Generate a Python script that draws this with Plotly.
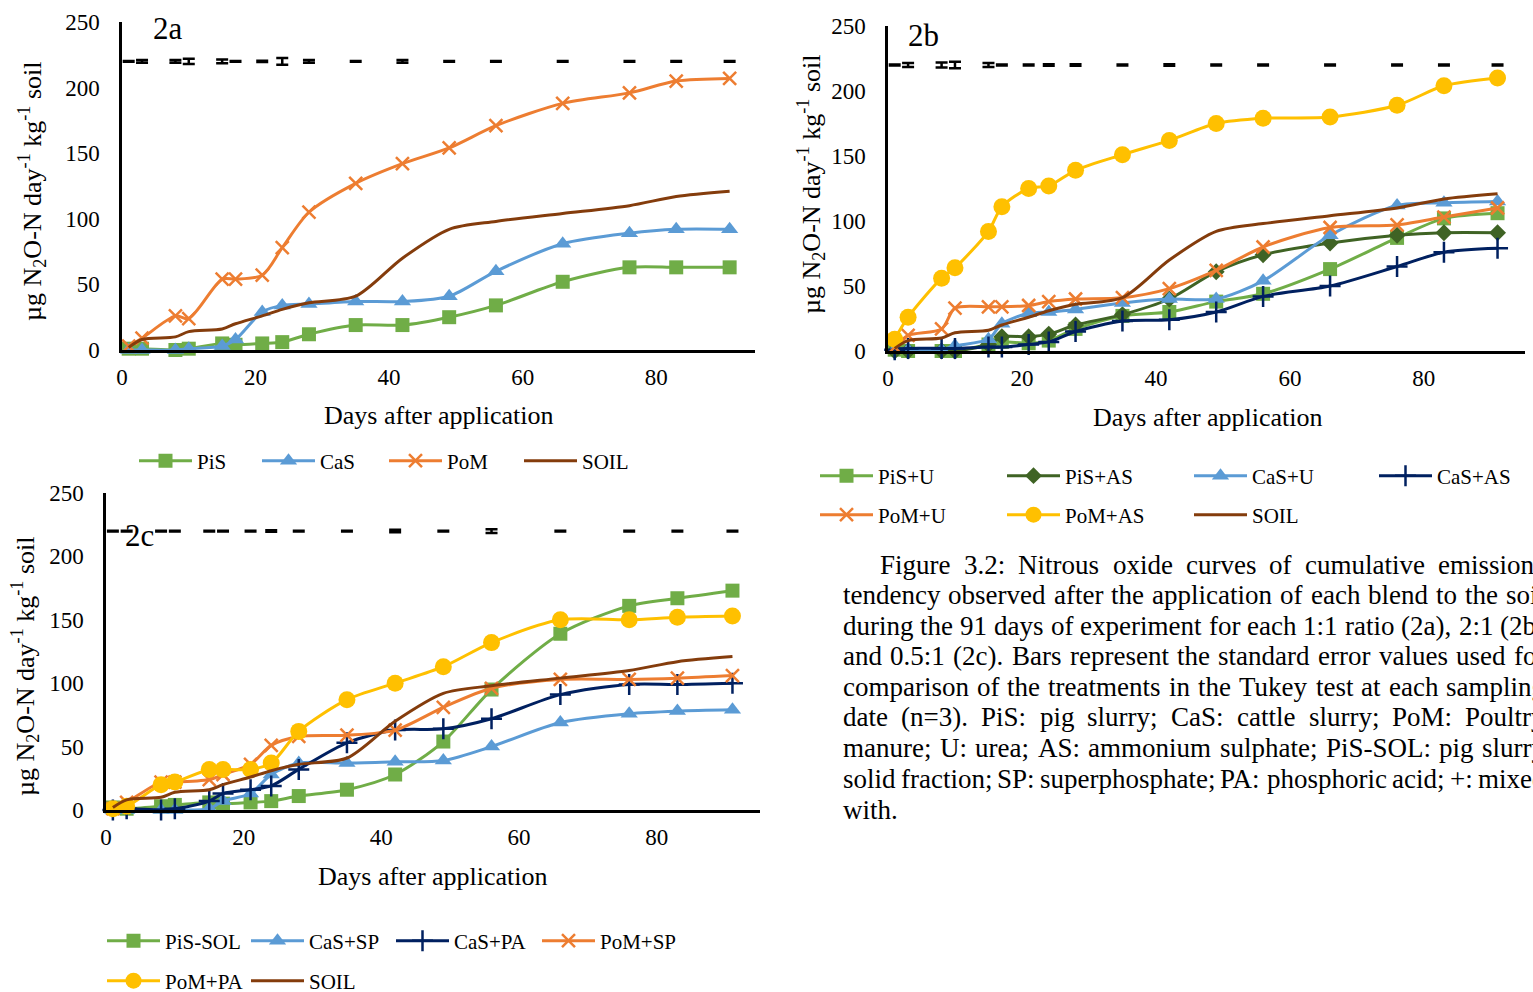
import plotly.graph_objects as go

W, H = 1533, 992

days = [1, 3, 8, 10, 15, 17, 21, 24, 28, 35, 42, 49, 56, 66, 76, 83, 91]
x_ticks = [0, 20, 40, 60, 80]
y_ticks = [0, 50, 100, 150, 200, 250]

soil = [2, 8, 10, 14, 16, 20, 26, 31, 36, 41, 70, 92, 98, 104, 110, 117, 121]

# 2a (1:1)
a_pis = [1, 1, 0, 1, 5, 4, 5, 6, 12, 19, 19, 25, 34, 52, 63, 63, 63]
a_cas = [0, 0, 0, 1, 3, 8, 29, 34, 35, 37, 37, 41, 60, 81, 89, 92, 92]
a_pom = [3, 9, 26, 24, 54, 54, 57, 78, 105, 127, 142, 154, 171, 188, 196, 205, 207]
a_se = [0.3, 1.0, 1.0, 2.0, 1.5, 0.3, 0.5, 2.5, 1.0, 0.3, 1.0, 0.3, 0.3, 0.3, 0.3, 0.3, 0.3]

# 2b (2:1)
b_pis_u = [1, 0, 0, 0, 5, 7, 6, 8, 17, 27, 30, 38, 44, 63, 87, 102, 106]
b_pis_as = [0, 0, 0, 0, 5, 11, 11, 13, 20, 28, 40, 61, 74, 83, 89, 91, 91]
b_cas_u = [1, 1, 1, 4, 9, 21, 29, 30, 32, 37, 40, 40, 54, 89, 112, 114, 115]
b_cas_as = [1, 2, 2, 2, 3, 3, 5, 7, 15, 23, 24, 30, 42, 50, 65, 76, 79]
b_pom_u = [3, 12, 17, 33, 34, 34, 35, 38, 40, 41, 48, 62, 80, 95, 97, 103, 110]
b_pom_as = [9, 26, 56, 64, 92, 111, 125, 127, 139, 151, 162, 175, 179, 180, 189, 204, 210]
b_se = [0.3, 1.5, 2.0, 2.5, 1.5, 0.3, 0.3, 0.6, 0.6, 0.3, 0.6, 0.3, 0.3, 0.3, 0.3, 0.3, 0.3]

# 2c (0.5:1)
c_pis_sol = [2, 1, 3, 4, 6, 5, 6, 7, 11, 16, 28, 54, 95, 139, 161, 167, 173]
c_cas_sp = [0, 0, 0, 0, 1, 7, 13, 28, 37, 37, 38, 39, 50, 69, 76, 78, 79]
c_cas_pa = [0, 1, 0, 1, 7, 13, 16, 19, 32, 53, 63, 64, 72, 91, 99, 99, 100]
c_pom_sp = [1, 6, 22, 22, 24, 28, 36, 51, 58, 59, 63, 81, 96, 103, 103, 104, 106]
c_pom_pa = [1, 3, 20, 22, 32, 32, 32, 37, 62, 87, 100, 113, 132, 150, 150, 152, 153]
c_se = [0.3, 0.3, 0.3, 0.3, 0.3, 0.3, 0.3, 0.6, 0.3, 0.3, 1.0, 0.3, 1.5, 0.3, 0.3, 0.3, 0.3]
se_level = 220

caption = [
    "Figure 3.2: Nitrous oxide curves of cumulative emissions",
    "tendency observed after the application of each blend to the soil",
    "during the 91 days of experiment for each 1:1 ratio (2a), 2:1 (2b)",
    "and 0.5:1 (2c). Bars represent the standard error values used for",
    "comparison of the treatments in the Tukey test at each sampling",
    "date (n=3). PiS: pig slurry; CaS: cattle slurry; PoM: Poultry",
    "manure; U: urea; AS: ammonium sulphate; PiS-SOL: pig slurry",
    "solid fraction; SP: superphosphate; PA: phosphoric acid; +: mixed",
    "with.",
]

FONT = "Liberation Serif"
GREEN, BLUE, ORANGE, BROWN = "#70AD47", "#5B9BD5", "#ED7D31", "#843C0C"
DKGREEN, NAVY, YELLOW = "#3F6324", "#002060", "#FFC000"

fig = go.Figure()

def px_x(p):
    return p / W

def px_y(p):
    return 1 - p / H

# panel geometry in pixels
panels = {
    "a": dict(ax="", l=122, r=755, t=22, b=350, xmax=94.8),
    "b": dict(ax="2", l=888, r=1525, t=26, b=351, xmax=95.1),
    "c": dict(ax="3", l=106, r=760, t=493, b=810, xmax=95.0),
}

axis_common = dict(showgrid=False, zeroline=False, showline=True, linecolor="black",
                   linewidth=2.5, ticks="", automargin=False,
                   tickfont=dict(family=FONT, size=23, color="black"))

for k, p in panels.items():
    xa = "xaxis" + p["ax"]
    ya = "yaxis" + p["ax"]
    fig.update_layout(**{
        xa: dict(domain=[px_x(p["l"]), px_x(p["r"])], range=[0, p["xmax"]],
                 tickvals=x_ticks, anchor="y" + p["ax"], ticklabelstandoff=5, **axis_common),
        ya: dict(domain=[px_y(p["b"]), px_y(p["t"])], range=[0, 250],
                 tickvals=y_ticks, anchor="x" + p["ax"], ticklabelstandoff=15, **axis_common),
    })

marker_styles = {
    "square": dict(symbol="square", size=14),
    "triangle": dict(symbol="triangle-up", size=15),
    "x": dict(symbol="x-thin", size=13),
    "diamond": dict(symbol="diamond", size=13),
    "cross": dict(symbol="cross-thin", size=15),
    "circle": dict(symbol="circle", size=17),
}

legend_count = [0]
legend_layouts = {}

def add_series(panel, name, y, color, marker, lx, ly):
    p = panels[panel]
    legend_count[0] += 1
    lname = "legend" if legend_count[0] == 1 else "legend%d" % legend_count[0]
    legend_layouts[lname] = dict(x=px_x(lx - 6), y=px_y(ly), xanchor="left", yanchor="middle",
                                 orientation="h", bgcolor="rgba(0,0,0,0)", itemwidth=53,
                                 font=dict(family=FONT, size=21, color="black"))
    mk = dict(color=color)
    mode = "lines"
    if marker:
        ms = marker_styles[marker]
        mk.update(ms)
        if marker in ("x", "cross"):
            mk["line"] = dict(color=color, width=2.5)
        mode = "lines+markers"
    fig.add_trace(go.Scatter(
        x=days, y=y, name=name, mode=mode, marker=mk,
        line=dict(color=color, width=3, shape="spline", smoothing=0.8),
        xaxis="x" + p["ax"], yaxis="y" + p["ax"], legend=lname, cliponaxis=False,
    ))

def add_se(panel, se):
    p = panels[panel]
    fig.add_trace(go.Scatter(
        x=days, y=[se_level] * len(days), mode="markers",
        marker=dict(size=1, color="rgba(0,0,0,0)"), showlegend=False, hoverinfo="skip",
        error_y=dict(type="data", array=se, visible=True, color="black", thickness=2.5, width=6),
        xaxis="x" + p["ax"], yaxis="y" + p["ax"],
    ))

# 2a
add_se("a", a_se)
add_series("a", "PiS", a_pis, GREEN, "square", 140, 461)
add_series("a", "CaS", a_cas, BLUE, "triangle", 263, 461)
add_series("a", "PoM", a_pom, ORANGE, "x", 390, 461)
add_series("a", "SOIL", soil, BROWN, None, 525, 461)

# 2b
add_se("b", b_se)
add_series("b", "PiS+U", b_pis_u, GREEN, "square", 821, 476)
add_series("b", "PiS+AS", b_pis_as, DKGREEN, "diamond", 1008, 476)
add_series("b", "CaS+U", b_cas_u, BLUE, "triangle", 1195, 476)
add_series("b", "CaS+AS", b_cas_as, NAVY, "cross", 1380, 476)
add_series("b", "PoM+U", b_pom_u, ORANGE, "x", 821, 515)
add_series("b", "PoM+AS", b_pom_as, YELLOW, "circle", 1008, 515)
add_series("b", "SOIL", soil, BROWN, None, 1195, 515)

# 2c
add_se("c", c_se)
add_series("c", "PiS-SOL", c_pis_sol, GREEN, "square", 108, 941)
add_series("c", "CaS+SP", c_cas_sp, BLUE, "triangle", 252, 941)
add_series("c", "CaS+PA", c_cas_pa, NAVY, "cross", 397, 941)
add_series("c", "PoM+SP", c_pom_sp, ORANGE, "x", 543, 941)
add_series("c", "PoM+PA", c_pom_pa, YELLOW, "circle", 108, 981)
add_series("c", "SOIL", soil, BROWN, None, 252, 981)

annotations = []

def ann(text, x, y, size, xanchor="center", yanchor="middle", angle=0):
    annotations.append(dict(text=text, x=px_x(x), y=px_y(y), xref="paper", yref="paper",
                            xanchor=xanchor, yanchor=yanchor, showarrow=False, textangle=angle,
                            borderpad=0, borderwidth=0,
                            font=dict(family=FONT, size=size, color="black")))

ytitle = "µg N<sub>2</sub>O-N day<sup>-1</sup> kg<sup>-1</sup> soil"
xtitle = "Days after application"
ann(ytitle, 32, 191, 26, angle=-90)
ann(ytitle, 811, 184, 26, angle=-90)
ann(ytitle, 25, 666, 26, angle=-90)
ann(xtitle, 439, 415, 26)
ann(xtitle, 1208, 417, 26)
ann(xtitle, 433, 876, 26)
ann("2a", 168, 29, 31)
ann("2b", 923, 35, 31)
ann("2c", 139, 535, 31)

# justified caption using Times metrics
TW = {' ': 250, '!': 333, '(': 333, ')': 333, '+': 564, ',': 250, '-': 333, '.': 250, ':': 278,
      ';': 278, '=': 564, 'A': 722, 'B': 667, 'C': 667, 'D': 722, 'E': 611, 'F': 556, 'G': 722,
      'H': 722, 'I': 333, 'J': 389, 'K': 722, 'L': 611, 'M': 889, 'N': 722, 'O': 722, 'P': 556,
      'Q': 722, 'R': 667, 'S': 556, 'T': 611, 'U': 722, 'V': 722, 'W': 944, 'X': 722, 'Y': 722,
      'Z': 611, 'a': 444, 'b': 500, 'c': 444, 'd': 500, 'e': 444, 'f': 333, 'g': 500, 'h': 500,
      'i': 278, 'j': 278, 'k': 500, 'l': 278, 'm': 778, 'n': 500, 'o': 500, 'p': 500, 'q': 500,
      'r': 333, 's': 389, 't': 278, 'u': 500, 'v': 500, 'w': 722, 'x': 500, 'y': 500, 'z': 444}
CAP_SIZE = 27

def tw(s):
    return sum(TW.get(ch, 500) for ch in s) * CAP_SIZE / 1000.0

line_y = [565, 595, 626, 656, 687, 717, 748, 779, 810]
right_edge = 1545
for i, line in enumerate(caption):
    left = 880 if i == 0 else 843
    words = line.split(" ")
    if i == len(caption) - 1:
        ann(line, left, line_y[i], CAP_SIZE, xanchor="left")
        continue
    total = sum(tw(w_) for w_ in words)
    gap = (right_edge - left - total) / (len(words) - 1)
    pos = left
    for w_ in words:
        ann(w_, pos, line_y[i], CAP_SIZE, xanchor="left")
        pos += tw(w_) + gap

fig.update_layout(width=W, height=H, margin=dict(l=0, r=0, t=0, b=0, autoexpand=False),
                  paper_bgcolor="white", plot_bgcolor="white",
                  annotations=annotations, **legend_layouts)

fig.write_html("out.html")
